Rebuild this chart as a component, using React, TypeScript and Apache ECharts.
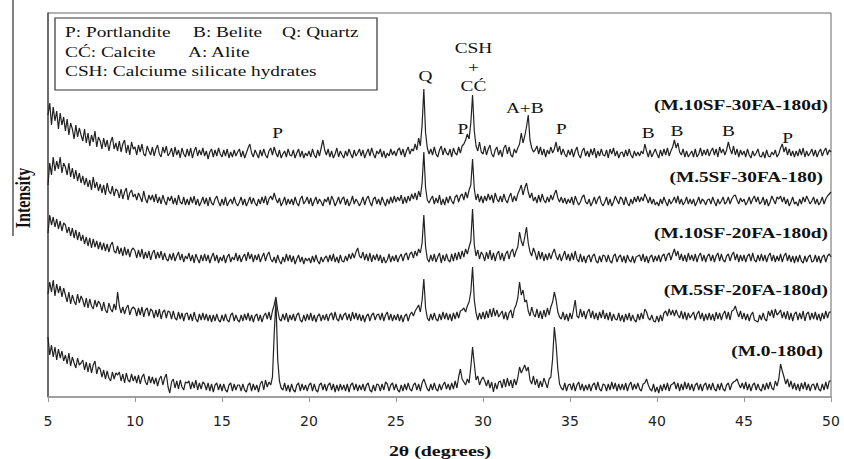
import React, { useEffect, useRef } from "react";
import * as echarts from "echarts";

// 2θ sampling: 5.0° to 50.0° in 0.1° steps (451 points per pattern)
const X_START = 5;
const X_STEP = 0.1;

// Relative intensities (px-like units), one row per degree
const m10sf30fa = [
  40,52,30,48,34,44,26,42,30,38,
  24,36,20,32,26,16,30,18,27,20,
  14,26,12,22,9,20,13,24,8,18,
  14,6,17,8,15,4,13,18,6,12,
  4,14,3,11,15,2,10,0,13,6,
  8,0,10,3,11,1,-1,9,4,0,
  8,-1,6,10,1,-2,8,2,9,-1,
  2,7,-2,8,0,5,-3,7,1,-2,
  6,-1,7,-3,4,8,-1,5,0,7,
  -1,4,-4,3,6,-2,5,-1,7,1,
  -2,5,-1,6,-3,3,-2,5,-1,3,
  6,-2,4,-3,2,7,11,2,-2,5,
  1,-3,5,-1,6,0,-3,4,7,0,
  8,2,-2,5,-3,1,4,-2,6,0,
  -1,5,-3,2,6,-2,4,-3,2,-1,
  4,-2,6,0,-3,5,-1,7,15,5,
  0,6,-2,4,-3,1,7,-2,4,0,
  -3,4,-1,6,1,-3,5,-1,2,6,
  -1,5,-3,2,6,-1,7,1,-3,4,
  1,6,-2,4,-3,2,-1,6,0,4,
  -1,5,7,0,6,-2,4,8,1,6,
  4,11,5,17,9,30,66,22,7,1,
  6,0,8,1,-2,5,9,0,7,2,
  0,6,-2,7,2,0,8,2,9,11,
  15,21,16,32,60,24,9,4,13,3,
  1,9,0,6,10,1,-2,5,8,0,
  5,-2,7,10,1,8,0,-2,6,2,
  7,11,22,12,19,28,40,15,7,3,
  5,9,1,8,0,6,-2,5,1,8,
  2,6,13,3,9,0,6,1,-2,5,
  0,6,-2,4,8,0,-3,4,7,-1,
  4,-2,6,0,7,-3,4,-1,6,0,
  -1,5,-3,6,1,7,-1,4,-3,2,
  3,-2,5,-1,6,0,-3,4,-1,3,
  -1,4,1,11,4,-2,5,-2,2,6,
  1,-3,5,-1,6,0,7,-1,4,8,
  15,7,12,3,0,6,-2,4,-2,1,
  4,-2,6,-2,1,7,-1,5,0,6,
  -1,4,7,0,6,-2,8,2,6,0,
  5,13,6,1,9,0,6,-2,5,0,
  4,-2,6,0,-3,4,-1,2,6,-1,
  -2,3,-3,5,-1,-2,3,0,5,-2,
  1,7,11,3,8,0,6,-1,4,-2,
  4,-1,6,0,7,-2,4,-1,2,6,
  -1,5,-2,3,6,-1,4,7,0,5,
  3,
];

const m5sf30fa = [
  18,40,28,46,32,42,34,46,30,40,
  36,28,40,26,35,24,33,22,30,20,
  27,18,25,16,23,13,26,15,21,12,
  19,10,18,8,20,12,9,17,7,14,
  12,5,14,4,11,15,3,10,13,6,
  9,3,10,6,1,12,4,0,8,3,
  8,1,9,0,6,-1,8,2,-2,6,
  2,7,-1,5,-2,8,1,-1,6,-2,
  4,-2,6,0,7,-2,4,-3,1,6,
  -1,5,-3,6,0,-2,4,7,1,-3,
  4,-2,6,-3,1,4,-1,6,0,-3,
  1,6,-2,4,-3,1,6,-1,5,0,
  -3,4,-1,6,0,7,-2,4,7,3,
  10,4,0,5,-3,1,6,-2,4,-1,
  4,-2,6,0,-3,4,7,-1,2,6,
  -1,5,-3,2,6,-1,4,1,-3,4,
  1,6,-2,7,3,-3,1,6,-1,4,
  6,-2,4,-3,1,7,-1,4,1,-3,
  1,6,-2,4,7,1,-3,4,6,-1,
  4,-2,6,1,-3,4,-1,6,0,7,
  1,6,2,8,-1,6,0,7,2,9,
  4,10,3,12,6,20,51,15,3,0,
  4,7,-1,5,0,8,-2,4,-2,6,
  0,7,2,-1,6,8,1,7,9,3,
  11,5,13,18,44,14,3,9,1,7,
  0,7,2,9,3,8,0,10,4,1,
  7,1,9,3,0,6,10,1,7,2,
  9,13,18,8,15,20,11,5,10,2,
  6,0,8,1,9,3,0,6,1,8,
  3,9,13,5,1,6,0,5,-1,4,
  0,6,-2,7,2,-2,1,6,8,1,
  -1,4,-3,1,6,-1,4,7,0,-3,
  1,6,-2,4,-3,1,7,3,-1,6,
  4,-2,6,0,-3,4,-1,6,1,7,
  1,6,2,9,5,0,6,-1,4,-2,
  1,-3,4,-1,6,1,-3,4,-1,2,
  6,0,7,-1,4,-2,1,6,-1,4,
  -1,4,-3,1,6,-1,4,2,-2,3,
  4,-1,6,1,-3,4,-1,2,6,-1,
  1,6,-1,4,7,8,3,-1,5,1,
  4,-2,1,6,-1,4,7,1,6,-1,
  1,6,-2,4,-3,1,7,3,-1,6,
  4,7,1,6,-1,4,-3,1,6,-1,
  1,-3,4,-1,6,1,7,3,-1,2,
  6,-1,4,-2,1,6,-1,4,7,9,
  11,
];

const m10sf20fa = [
  28,46,36,44,34,42,32,40,30,38,
  36,28,34,25,33,23,31,21,29,20,
  26,17,24,15,23,13,22,14,20,12,
  19,11,18,10,17,9,16,19,10,8,
  15,7,13,5,14,6,12,4,11,13,
  10,3,11,4,12,2,9,3,10,1,
  8,11,2,9,3,10,1,8,2,0,
  7,1,8,0,5,9,1,7,-1,5,
  2,8,0,6,-2,7,2,-2,6,0,
  7,0,6,-2,4,8,0,6,-2,4,
  0,6,-2,4,7,-1,4,1,8,0,
  6,-1,4,7,0,9,2,7,-1,6,
  1,7,-1,4,8,0,6,9,2,-1,
  4,-2,6,0,-3,4,-1,7,0,6,
  -1,5,-3,2,6,-1,4,-3,3,0,
  3,-2,5,-1,6,0,-3,4,-1,3,
  5,-1,6,0,7,-1,4,-2,6,0,
  -1,5,0,7,2,8,3,9,13,5,
  3,9,1,7,0,8,-1,6,1,7,
  0,6,-2,4,-2,1,7,-1,5,0,
  6,-1,4,7,0,6,8,1,7,9,
  3,10,5,12,8,18,46,14,2,-1,
  6,0,7,-1,4,8,-2,6,0,7,
  1,-1,7,0,8,1,9,2,10,4,
  12,7,14,20,52,16,5,11,2,9,
  6,0,9,2,11,1,8,0,7,10,
  1,8,0,7,10,2,9,12,4,10,
  14,29,20,15,24,34,18,9,5,13,
  8,1,10,2,9,0,7,1,8,2,
  8,12,5,1,7,0,5,10,1,7,
  0,8,1,10,2,-1,7,-1,5,-2,
  4,6,-1,5,7,0,-2,5,-1,6,
  5,-1,6,0,-2,5,7,-1,4,6,
  -1,5,-2,6,1,-1,5,-2,4,5,
  6,0,7,-1,5,-2,4,6,-1,5,
  0,6,-1,5,7,0,6,8,1,7,
  12,5,10,1,7,0,6,-1,8,1,
  6,0,7,-1,5,8,0,6,-1,5,
  7,0,6,-1,5,8,0,7,1,-1,
  5,7,0,6,9,1,7,-1,6,0,
  6,-1,5,7,0,8,1,-1,6,0,
  7,0,6,-1,5,8,0,6,-1,5,
  0,7,-1,5,8,0,6,-1,5,-2,
  5,-1,6,0,-2,5,-1,4,6,-1,
  0,6,-1,5,-2,4,6,-1,5,7,
  4,
];

const m5sf20fa = [
  26,38,28,40,24,36,27,34,23,32,
  25,18,28,16,25,19,15,26,17,24,
  20,13,22,12,21,14,11,20,13,19,
  16,9,18,10,7,17,11,8,16,10,
  28,14,7,13,6,12,15,5,11,13,
  11,4,12,5,13,3,10,12,4,11,
  9,2,10,3,11,1,8,10,2,9,
  8,1,9,2,0,8,1,7,-1,6,
  7,0,6,-1,8,1,-2,6,0,7,
  0,6,-1,5,-2,5,-1,6,0,-2,
  5,-1,6,0,-2,5,7,-1,5,0,
  -2,5,-1,6,0,7,-1,5,-2,4,
  6,-1,5,-2,4,7,1,8,0,9,
  15,23,10,1,-1,6,0,7,-2,5,
  0,6,-1,5,7,0,-2,5,-1,6,
  0,7,-1,5,-2,4,6,-1,5,0,
  6,-1,5,7,0,8,1,-1,6,0,
  5,7,0,6,-1,8,1,7,0,6,
  -1,5,-2,4,6,-1,5,7,0,5,
  6,0,7,-1,5,8,0,6,-1,5,
  0,6,-1,5,-2,4,6,-1,5,8,
  4,9,12,15,8,20,41,12,2,-1,
  6,0,7,1,-1,6,0,8,1,7,
  0,6,-1,7,1,8,2,9,10,12,
  8,14,18,28,53,20,7,0,7,1,
  8,1,9,2,11,3,12,4,10,3,
  6,9,1,8,0,7,10,2,11,15,
  22,38,25,30,18,20,9,4,13,6,
  3,11,2,9,1,10,3,12,5,13,
  18,28,20,8,3,1,8,0,6,-1,
  7,1,10,20,4,2,11,3,9,1,
  8,11,2,9,1,7,0,8,2,10,
  1,7,0,8,-1,6,1,0,7,-1,
  5,-2,6,0,7,-1,5,0,-2,6,
  0,7,1,11,8,2,0,5,-1,-2,
  4,-2,5,-1,7,9,4,11,5,10,
  4,10,5,2,9,1,8,0,7,2,
  5,8,0,6,9,1,7,-1,6,0,
  7,0,6,-1,8,1,7,0,6,9,
  1,8,0,9,10,14,8,3,9,1,
  7,0,6,-1,5,8,0,-1,-2,5,
  0,7,1,-1,9,4,10,2,11,5,
  7,10,2,8,1,9,0,7,-1,6,
  8,0,7,1,9,-1,6,8,0,7,
  1,8,0,6,-1,7,1,9,2,8,
  8,
];

const m0 = [
  52,34,44,32,42,29,40,31,38,28,
  34,25,36,23,32,26,21,31,24,26,
  29,19,27,17,26,16,24,28,15,22,
  20,12,19,10,18,11,8,17,10,16,
  14,17,8,15,6,16,9,7,15,8,
  13,6,14,5,12,15,7,4,13,6,
  12,5,11,3,10,13,4,11,15,2,
  -4,7,10,1,8,0,9,2,-1,7,
  6,8,0,7,1,9,-1,6,0,7,
  5,-1,6,-2,5,-3,4,6,-1,5,
  -2,5,-1,-3,4,6,-2,5,-1,4,
  4,-2,5,-1,-3,4,6,-2,5,-1,
  4,-3,5,8,-1,9,2,7,4,12,
  55,89,30,8,1,-1,6,-2,4,-3,
  5,-1,-3,4,6,-2,5,-1,4,-2,
  4,6,-2,5,-1,-3,4,6,-1,5,
  -2,4,6,-1,5,-3,4,-2,5,-1,
  4,-2,5,-3,4,6,-1,5,-2,4,
  -1,5,-2,4,6,-1,-3,4,-2,5,
  4,-2,5,-1,7,5,-2,4,6,-1,
  5,-1,-3,4,-2,5,-1,6,0,-2,
  4,6,-1,5,-2,6,10,5,0,-2,
  5,-1,6,0,-2,5,-1,4,7,0,
  5,-1,6,0,8,1,12,20,10,7,
  4,10,6,22,42,25,9,13,4,9,
  12,8,3,9,1,7,-3,6,0,7,
  8,1,10,2,11,3,9,1,10,4,
  11,22,16,20,24,18,22,9,5,13,
  4,10,1,8,2,11,6,1,10,12,
  30,62,45,20,5,1,-1,6,-2,4,
  5,-1,6,-2,4,7,-1,5,-2,4,
  -1,5,-2,4,6,-1,7,0,-2,5,
  4,-2,5,-1,7,0,6,-2,5,-1,
  5,-1,6,-2,4,7,-1,5,0,6,
  0,-2,5,6,10,4,0,-2,5,-3,
  2,-4,4,-2,5,-1,6,-2,4,5,
  7,0,6,-2,5,-1,7,0,6,-1,
  5,-2,4,6,-1,5,-2,4,6,-1,
  5,-1,6,0,-2,5,-1,6,0,-2,
  4,6,-1,5,7,8,10,5,1,6,
  0,7,-1,5,-2,4,6,-1,5,0,
  -2,5,-1,6,0,7,1,-1,8,3,
  10,25,18,12,5,10,2,8,0,6,
  -1,5,-2,6,0,7,-1,5,-2,4,
  5,-1,6,0,-2,5,-1,7,0,8,
  8,
];

const patterns = [m10sf30fa, m5sf30fa, m10sf20fa, m5sf20fa, m0];
const patternNames = [
  "(M.10SF-30FA-180d)",
  "(M.5SF-30FA-180)",
  "(M.10SF-20FA-180d)",
  "(M.5SF-20FA-180d)",
  "(M.0-180d)",
];
// vertical stacking offsets of each pattern
const offsets = [242, 194, 136, 77, 8];

const xTicks = [5, 10, 15, 20, 25, 30, 35, 40, 45, 50];

// peak annotations: [label, 2θ position]
const peakLabels: [string, number][] = [
  ["P", 18.2],
  ["Q", 26.7],
  ["P", 28.85],
  ["A+B", 32.4],
  ["P", 34.5],
  ["B", 39.5],
  ["B", 41.15],
  ["B", 44.1],
  ["P", 47.5],
];
const peakLabelY = [133, 76, 129, 108, 129, 133, 131, 131, 138];

const legendLines: [string, number, number][] = [
  ["P: Portlandite", 65, 32],
  ["B: Belite", 193, 32],
  ["Q: Quartz", 282, 32],
  ["CĆ: Calcite", 65, 52],
  ["A: Alite", 188, 52],
  ["CSH: Calciume silicate hydrates", 65, 71],
];

const nameLabelPos: [number, number][] = [
  [828, 105],
  [823, 177],
  [828, 233],
  [828, 290],
  [823, 351],
];

const SERIF = '"Liberation Serif", "Times New Roman", serif';
const SX = 1.38;

export default function App() {
  const ref = useRef<HTMLDivElement>(null);
  useEffect(() => {
    if (!ref.current) return;
    const chart = echarts.init(ref.current, null, { renderer: "svg" });
    const series = patterns.map((p, k) => ({
      type: "line",
      name: patternNames[k],
      showSymbol: false,
      symbol: "none",
      data: p.map((v, i) => [+(X_START + i * X_STEP).toFixed(1), offsets[k] + v]),
      lineStyle: { color: "#222", width: 1.2 },
      silent: true,
    }));
    chart.setOption({
      animation: false,
      backgroundColor: "#ffffff",
      grid: {
        left: 48,
        right: 13,
        top: 13,
        bottom: 62,
        show: true,
        borderColor: "#666",
        borderWidth: 1,
        backgroundColor: "transparent",
      },
      xAxis: {
        type: "value",
        min: xTicks[0],
        max: xTicks[xTicks.length - 1],
        interval: 5,
        axisLine: { lineStyle: { color: "#999", width: 1.5 } },
        axisTick: { show: true, inside: false, length: 5, lineStyle: { color: "#999" } },
        axisLabel: {
          color: "#222",
          fontSize: 14,
          fontFamily: '"DejaVu Sans", sans-serif',
          margin: 17,
        },
        splitLine: { show: false },
      },
      yAxis: {
        type: "value",
        min: 0,
        max: 384,
        axisLine: { show: true, lineStyle: { color: "#555", width: 1.5 } },
        axisTick: { show: false },
        axisLabel: { show: false },
        splitLine: { show: false },
      },
      series,
    });

    const px = (deg: number) => chart.convertToPixel({ xAxisIndex: 0 }, deg) as number;
    const graphic: any[] = [];
    // legend box
    graphic.push({
      type: "rect",
      shape: { x: 55, y: 18, width: 322, height: 72 },
      style: { fill: "#fff", stroke: "#333", lineWidth: 1.2 },
      z: 10,
    });
    legendLines.forEach(([t, x, y]) => {
      graphic.push({
        type: "text",
        x,
        y,
        scaleX: SX,
        z: 11,
        style: {
          text: t,
          fontFamily: SERIF,
          fontSize: 14,
          fill: "#111",
          align: "left",
          verticalAlign: "middle",
        },
      });
    });
    // CSH + CĆ stacked label
    const cshX = px(29.45);
    [["CSH", 48], ["+", 67], ["CĆ", 86]].forEach(([t, y]) => {
      graphic.push({
        type: "text",
        x: cshX,
        y: y as number,
        scaleX: SX,
        z: 11,
        style: {
          text: t as string,
          fontFamily: SERIF,
          fontSize: 14,
          fill: "#111",
          align: "center",
          verticalAlign: "middle",
        },
      });
    });
    peakLabels.forEach(([t, deg], i) => {
      graphic.push({
        type: "text",
        x: px(deg),
        y: peakLabelY[i],
        scaleX: SX,
        z: 11,
        style: {
          text: t,
          fontFamily: SERIF,
          fontSize: 14,
          fill: "#111",
          align: "center",
          verticalAlign: "middle",
        },
      });
    });
    patternNames.forEach((n, k) => {
      graphic.push({
        type: "text",
        x: nameLabelPos[k][0],
        y: nameLabelPos[k][1],
        scaleX: SX,
        z: 11,
        style: {
          text: n,
          fontFamily: SERIF,
          fontSize: 14,
          fontWeight: "bold",
          fill: "#111",
          align: "right",
          verticalAlign: "middle",
        },
      });
    });
    // x axis title
    graphic.push({
      type: "text",
      x: 440,
      y: 452,
      scaleX: 1.42,
      style: {
        text: "2θ (degrees)",
        fontFamily: SERIF,
        fontSize: 14,
        fontWeight: "bold",
        fill: "#111",
        align: "center",
        verticalAlign: "middle",
      },
    });
    // y axis title
    graphic.push({
      type: "text",
      x: 23,
      y: 198,
      rotation: Math.PI / 2,
      scaleY: 1.3,
      style: {
        text: "Intensity",
        fontFamily: SERIF,
        fontSize: 16,
        fontWeight: "bold",
        fill: "#111",
        align: "center",
        verticalAlign: "middle",
      },
    });
    graphic.push({
      type: "line",
      shape: { x1: 13, y1: 0, x2: 13, y2: 236 },
      style: { stroke: "#555", lineWidth: 1.5 },
    });
    chart.setOption({ graphic });

    return () => chart.dispose();
  }, []);
  return <div ref={ref} style={{ width: 844, height: 459, position: "fixed", left: 0, top: 0 }} />;
}
